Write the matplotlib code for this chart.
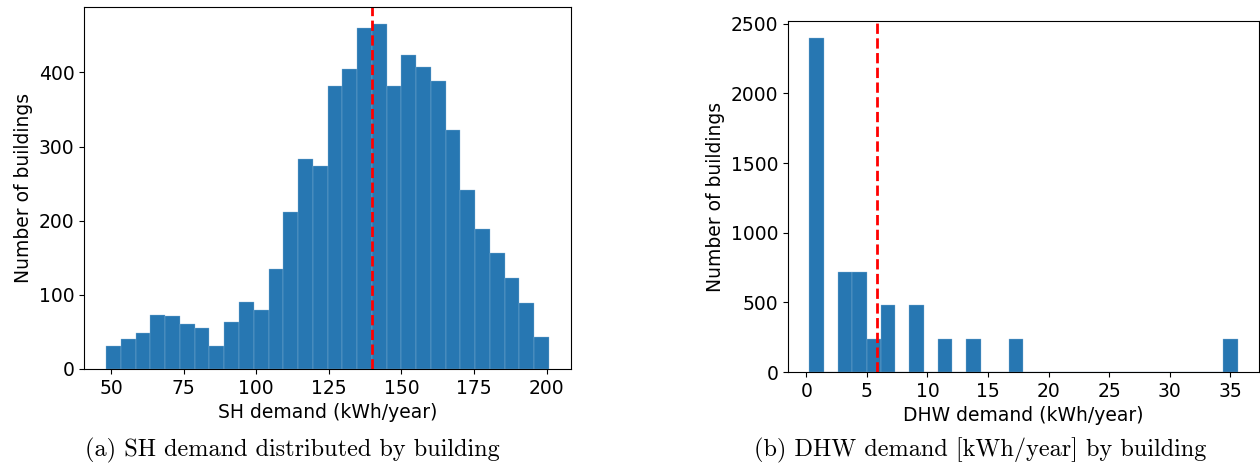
import numpy as np
import matplotlib
matplotlib.use('Agg')
import matplotlib.pyplot as plt

# SH demand histogram (30 bins)
sh_range = (48.3, 200.8)
sh_counts = [31, 41, 48, 73, 71, 60, 55, 31, 63, 91,
             79, 135, 212, 283, 274, 382, 404, 460, 465, 382,
             423, 407, 388, 322, 241, 189, 156, 123, 89, 43]
sh_median = 139.9

# DHW demand histogram (30 bins)
dhw_range = (0.26, 35.6)
dhw_counts = [2400, 0, 720, 720, 240, 480, 0, 480, 0, 240,
              0, 240, 0, 0, 240, 0, 0, 0, 0, 0,
              0, 0, 0, 0, 0, 0, 0, 0, 0, 240]
dhw_median = 5.8

xlabels = ['SH demand (kWh/year)', 'DHW demand (kWh/year)']
ylabel = 'Number of buildings'
captions = ['(a) SH demand distributed by building',
            '(b) DHW demand [kWh/year] by building']

plt.rcParams['font.size'] = 13.5

fig = plt.figure(figsize=(12.6, 4.67), dpi=100)
ax1 = fig.add_axes([0.0667, 0.2099, 0.3865, 0.7752])
ax2 = fig.add_axes([0.6254, 0.2034, 0.3738, 0.7516])

for ax, rng, counts, med, xl in [(ax1, sh_range, sh_counts, sh_median, xlabels[0]),
                                 (ax2, dhw_range, dhw_counts, dhw_median, xlabels[1])]:
    edges = np.linspace(rng[0], rng[1], len(counts) + 1)
    ax.hist(edges[:-1], bins=edges, weights=counts, color='#2777b2',
            edgecolor='#8fb9da', linewidth=0.25)
    ax.axvline(med, color='red', linestyle='--', linewidth=2)
    ax.set_xlabel(xl)
    ax.set_ylabel(ylabel)

ax1.set_xticks([50, 75, 100, 125, 150, 175, 200])
ax2.set_xticks([0, 5, 10, 15, 20, 25, 30, 35])

fig.text(292 / 1260, 1 - 456.5 / 467, captions[0], fontfamily='cmr10',
         fontsize=17.5, ha='center', va='baseline')
fig.text(980.5 / 1260, 1 - 456.5 / 467, captions[1], fontfamily='cmr10',
         fontsize=17.5, ha='center', va='baseline')

fig.savefig('out.png', dpi=100)
